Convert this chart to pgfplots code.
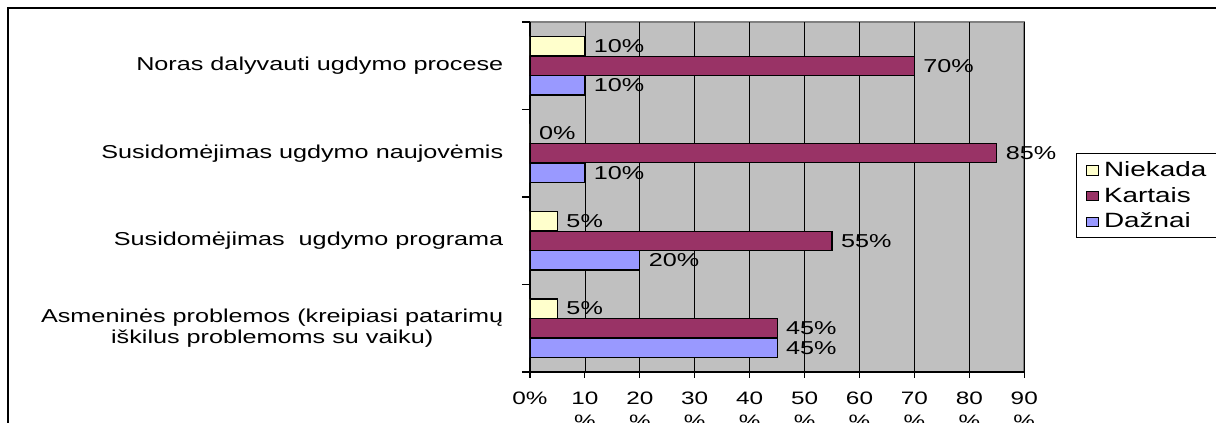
\documentclass[border=0pt]{standalone}
\usepackage{pgfplots}
\pgfplotsset{compat=1.18}
\usepackage{fontspec}
\setmainfont{Liberation Sans}[FakeStretch=1.35]
\definecolor{niekada}{HTML}{FFFFCC}
\definecolor{kartais}{HTML}{993366}
\definecolor{daznai}{HTML}{9999FF}
\definecolor{plotbg}{HTML}{C0C0C0}
\definecolor{edge}{HTML}{808080}

\begin{document}
\begin{tikzpicture}
% 1 px of the reference = 0.75pt, axis origin at pixel (530,372)
\useasboundingbox (-397.5pt,-38.25pt) rectangle (514.5pt,279pt);
\draw[line width=1.5pt] (-391.5pt,-45pt) -- (-391.5pt,273pt) -- (520pt,273pt);

\begin{axis}[
at={(0pt,0pt)}, anchor=south west,
width=370.7pt, height=262.5pt,
scale only axis,
xbar, bar width=0.22,
xmin=0, xmax=90,
ymin=-0.5, ymax=3.5,
axis lines*=left,
axis line style={-, black, line width=0.8pt},
axis background/.style={fill=plotbg, draw=edge, line width=1.2pt},
xmajorgrids, major grid style={black, line width=0.6pt},
tick align=outside,
major tick length=4.5pt, minor tick length=6pt,
xtick={0,10,20,30,40,50,60,70,80,90},
xticklabels={0\%,10\\\%,20\\\%,30\\\%,40\\\%,50\\\%,60\\\%,70\\\%,80\\\%,90\\\%},
x tick label style={align=center, font=\fontsize{13.5}{17}\selectfont, yshift=-7pt},
ytick={0,1,2,3},
yticklabels={{Asmeninės problemos (kreipiasi patarimų\\iškilus problemoms su vaiku)},
  {Susidomėjimas\ \ ugdymo programa},
  {Susidomėjimas ugdymo naujovėmis},
  {Noras dalyvauti ugdymo procese}},
y tick label style={align=center, font=\fontsize{14}{16.3}\selectfont, xshift=-12pt},
minor ytick={-0.5,0.5,1.5,2.5,3.5},
major y tick style={draw=none},
minor y tick style={black, line width=0.8pt},
x tick style={black, line width=0.8pt},
every axis plot/.append style={draw=black, line width=0.9pt},
nodes near coords={\pgfmathprintnumber{\pgfplotspointmeta}\%},
/pgf/number format/assume math mode=true,
every node near coord/.append style={font=\fontsize{14}{16}\selectfont, black, xshift=3pt},
legend style={at={(axis description cs:1.1046,0.6257)}, anchor=north west,
  draw=black, fill=white, line width=0.6pt,
  font=\fontsize{15.5}{17}\selectfont, row sep=2.5pt, inner xsep=7pt, inner ysep=4pt},
legend cell align=left,
legend image code/.code={\draw[#1, draw=black, line width=0.6pt] (0pt,-3.8pt) rectangle (9pt,3.2pt);
  \path (11pt,0pt);},
]
\addplot[fill=niekada, bar shift=0.225] coordinates {(5,0) (5,1) (0,2) (10,3)};
\addplot[fill=kartais, bar shift=0] coordinates {(45,0) (55,1) (85,2) (70,3)};
\addplot[fill=daznai, bar shift=-0.225] coordinates {(45,0) (20,1) (10,2) (10,3)};
\legend{Niekada,Kartais,Dažnai}
\end{axis}
\end{tikzpicture}
\end{document}
